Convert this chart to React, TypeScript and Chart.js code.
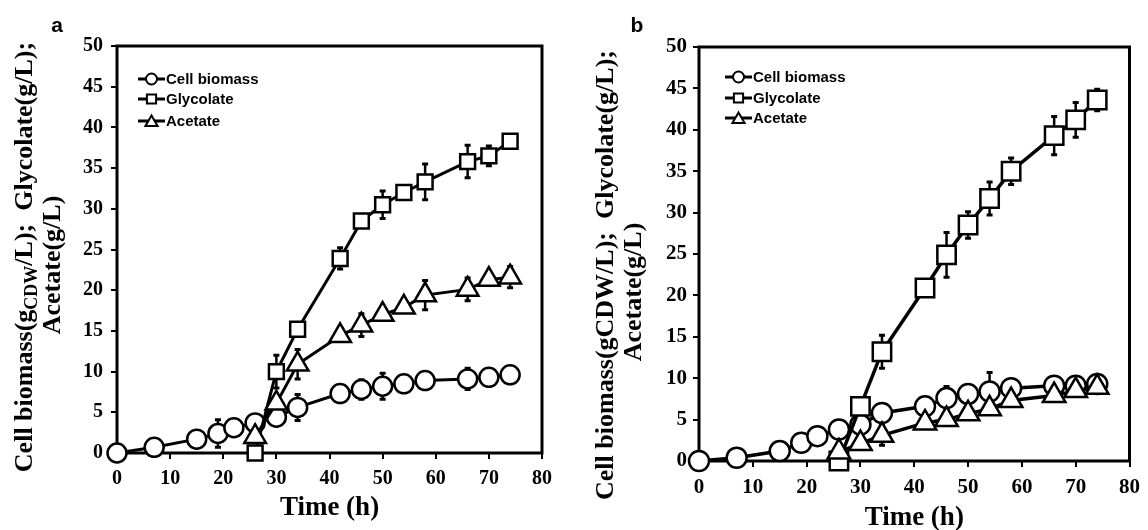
import React, { useEffect, useRef } from 'react';
import { Chart, registerables } from 'chart.js';

Chart.register(...registerables);

// ---------------- data ----------------
const timeCell = [0, 7, 15, 19, 22, 26, 30, 34, 42, 46, 50, 54, 58, 66, 70, 74];
const timeAcid = [26, 30, 34, 42, 46, 50, 54, 58, 66, 70, 74];

const seriesLabels = ['Cell biomass', 'Glycolate', 'Acetate'];
const xTitle = 'Time (h)';

// panel a
const cellA = [0, 0.7, 1.7, 2.4, 3.1, 3.7, 4.4, 5.6, 7.3, 7.8, 8.2, 8.5, 8.9, 9.1, 9.3, 9.6];
const cellAErr = [0, 0, 0, 1.7, 0, 0, 0, 1.6, 0, 1.2, 1.6, 0, 0, 1.3, 0, 0];
const glyA = [0, 10.0, 15.2, 23.9, 28.5, 30.5, 32.0, 33.3, 35.8, 36.5, 38.3];
const glyAErr = [0, 2.0, 0, 1.3, 0, 1.7, 0, 2.2, 2.0, 1.2, 0.8];
const aceA = [2.0, 6.1, 10.9, 14.4, 15.7, 17.0, 17.9, 19.4, 20.1, 21.3, 21.6];
const aceAErr = [0, 0, 1.8, 0, 1.4, 0, 0, 1.8, 1.4, 0, 1.3];

// panel b
const cellB = [0, 0.4, 1.2, 2.2, 3.0, 3.8, 4.4, 5.8, 6.6, 7.6, 8.1, 8.4, 8.8, 9.1, 9.1, 9.3];
const cellBErr = [0, 0, 0, 0, 0, 0, 0, 0, 0, 1.4, 0, 2.3, 0, 0, 0.5, 0];
const glyB = [0, 6.6, 13.2, 20.9, 24.9, 28.5, 31.7, 35.0, 39.3, 41.2, 43.6];
const glyBErr = [0, 0, 2.0, 0, 2.7, 1.6, 2.0, 1.6, 2.3, 2.1, 1.3];
const aceB = [1.1, 2.1, 3.1, 4.6, 5.0, 5.7, 6.3, 7.3, 7.9, 8.5, 8.9];
const aceBErr = [0, 0, 1.2, 0, 0, 0, 0, 0, 0, 0, 0];

const xTicks = { min: 0, max: 80, step: 10 };
const yTicks = { min: 0, max: 50, step: 5 };

// ---------------- styling / layout ----------------
const W = 574;
const H = 530;
const SERIF = '"Liberation Serif", "Times New Roman", serif';
const SANS = '"Liberation Sans", Arial, sans-serif';

type Seg = { t: string; sub?: boolean };

type PanelCfg = {
  letter: string;
  offsetX: number;
  area: { left: number; right: number; top: number; bottom: number };
  cell: number[];
  cellErr: number[];
  gly: number[];
  glyErr: number[];
  ace: number[];
  aceErr: number[];
  circleR: number;
  rectR: number;
  triR: number;
  lineW: number;
  tickSize: number;
  yTickPad: number;
  xTickPad: number;
  xTitlePadBottom: number;
  letterPos: [number, number];
  yTitle1: Seg[];
  yTitle2: string;
  yTitle1Pos: [number, number];
  yTitle2Pos: [number, number];
  legend: { x0: number; ys: number[] };
};

const panelA: PanelCfg = {
  letter: 'a',
  offsetX: 0,
  area: { left: 117, right: 542, top: 46, bottom: 453 },
  cell: cellA, cellErr: cellAErr, gly: glyA, glyErr: glyAErr, ace: aceA, aceErr: aceAErr,
  circleR: 9.5, rectR: 10.5, triR: 12.5, lineW: 3,
  tickSize: 20,
  yTickPad: 8, xTickPad: 8, xTitlePadBottom: 6,
  letterPos: [57, 26],
  yTitle1: [{ t: 'Cell biomass(g' }, { t: 'CDW', sub: true }, { t: '/L);  Glycolate(g/L);' }],
  yTitle2: 'Acetate(g/L)',
  yTitle1Pos: [32, 257],
  yTitle2Pos: [60, 265],
  legend: { x0: 138, ys: [79, 99, 121] },
};

const panelB: PanelCfg = {
  letter: 'b',
  offsetX: 574,
  area: { left: 125, right: 561, top: 47, bottom: 461 },
  cell: cellB, cellErr: cellBErr, gly: glyB, glyErr: glyBErr, ace: aceB, aceErr: aceBErr,
  circleR: 10, rectR: 13, triR: 13, lineW: 3.5,
  tickSize: 21,
  yTickPad: 6, xTickPad: 8, xTitlePadBottom: -4,
  letterPos: [63, 26],
  yTitle1: [{ t: 'Cell biomass(gCDW/L);  Glycolate(g/L);' }],
  yTitle2: 'Acetate(g/L)',
  yTitle1Pos: [39, 275],
  yTitle2Pos: [67, 292],
  legend: { x0: 151, ys: [77, 98, 118] },
};

// ---------------- helpers ----------------
function drawMarker(ctx: CanvasRenderingContext2D, style: string, x: number, y: number, r: number) {
  ctx.beginPath();
  if (style === 'circle') {
    ctx.arc(x, y, r, 0, Math.PI * 2);
  } else if (style === 'rect') {
    const s = r * Math.SQRT1_2;
    ctx.rect(x - s, y - s, 2 * s, 2 * s);
  } else {
    ctx.moveTo(x, y - r);
    ctx.lineTo(x + r * Math.sin((2 * Math.PI) / 3), y - r * Math.cos((2 * Math.PI) / 3));
    ctx.lineTo(x + r * Math.sin((4 * Math.PI) / 3), y - r * Math.cos((4 * Math.PI) / 3));
    ctx.closePath();
  }
  ctx.fillStyle = '#fff';
  ctx.fill();
  ctx.stroke();
}

const framePlugin = {
  id: 'frame',
  beforeDatasetsDraw(chart: any) {
    const { ctx, chartArea: a } = chart;
    ctx.save();
    ctx.strokeStyle = '#000';
    ctx.lineWidth = 3;
    ctx.strokeRect(a.left, a.top, a.right - a.left, a.bottom - a.top);
    ctx.restore();
  },
};

const errorBarPlugin = {
  id: 'errorBars',
  beforeDatasetsDraw(chart: any, _args: any, opts: any) {
    const { ctx } = chart;
    const ys = chart.scales.y;
    const errs: number[][] = opts.errors || [];
    ctx.save();
    ctx.strokeStyle = '#000';
    chart.data.datasets.forEach((ds: any, i: number) => {
      const meta = chart.getDatasetMeta(i);
      const e = errs[i] || [];
      ds.data.forEach((p: any, j: number) => {
        const err = e[j] || 0;
        if (!err) return;
        const el = meta.data[j];
        const x = el.x;
        const yTop = ys.getPixelForValue(p.y + err);
        const yBot = ys.getPixelForValue(p.y - err);
        ctx.lineWidth = 2.5;
        ctx.beginPath();
        ctx.moveTo(x, yTop);
        ctx.lineTo(x, yBot);
        ctx.stroke();
        ctx.lineWidth = 3;
        ctx.beginPath();
        ctx.moveTo(x - 3, yTop);
        ctx.lineTo(x + 3, yTop);
        ctx.moveTo(x - 3, yBot);
        ctx.lineTo(x + 3, yBot);
        ctx.stroke();
      });
    });
    ctx.restore();
  },
};

const panelTextPlugin = {
  id: 'panelText',
  afterDraw(chart: any, _args: any, opts: any) {
    const cfg: PanelCfg = opts.cfg;
    if (!cfg) return;
    const { ctx } = chart;
    ctx.save();
    ctx.fillStyle = '#000';

    // panel letter
    ctx.font = `bold 21px ${SANS}`;
    ctx.textAlign = 'center';
    ctx.textBaseline = 'middle';
    ctx.fillText(cfg.letter, cfg.letterPos[0], cfg.letterPos[1]);

    // y title line 1 (with optional subscript)
    const mainFont = `bold 26px ${SERIF}`;
    const subFont = `bold 18px ${SERIF}`;
    ctx.textAlign = 'left';
    ctx.textBaseline = 'alphabetic';
    let total = 0;
    cfg.yTitle1.forEach((s) => {
      ctx.font = s.sub ? subFont : mainFont;
      total += ctx.measureText(s.t).width;
    });
    ctx.save();
    ctx.translate(cfg.yTitle1Pos[0], cfg.yTitle1Pos[1]);
    ctx.rotate(-Math.PI / 2);
    let cx = -total / 2;
    cfg.yTitle1.forEach((s) => {
      ctx.font = s.sub ? subFont : mainFont;
      ctx.fillText(s.t, cx, s.sub ? 5 : 0);
      cx += ctx.measureText(s.t).width;
    });
    ctx.restore();

    // y title line 2
    ctx.save();
    ctx.translate(cfg.yTitle2Pos[0], cfg.yTitle2Pos[1]);
    ctx.rotate(-Math.PI / 2);
    ctx.font = mainFont;
    ctx.textAlign = 'center';
    ctx.fillText(cfg.yTitle2, 0, 0);
    ctx.restore();

    // legend
    const styles = ['circle', 'rect', 'triangle'];
    const radii = [5.5, 6.5, 7];
    ctx.font = `bold 15px ${SANS}`;
    ctx.textAlign = 'left';
    ctx.textBaseline = 'middle';
    chart.data.datasets.forEach((ds: any, i: number) => {
      const y = cfg.legend.ys[i];
      const x0 = cfg.legend.x0;
      ctx.strokeStyle = '#000';
      ctx.lineWidth = 3;
      ctx.beginPath();
      ctx.moveTo(x0, y);
      ctx.lineTo(x0 + 27, y);
      ctx.stroke();
      ctx.lineWidth = 2;
      drawMarker(ctx, styles[i], x0 + 13.5, y + (i === 2 ? 1.5 : 0), radii[i]);
      ctx.fillStyle = '#000';
      ctx.fillText(ds.label, x0 + 28, y + 1);
    });
    ctx.restore();
  },
};

function buildConfig(cfg: PanelCfg): any {
  const pts = (xs: number[], ys: number[]) => xs.map((x, i) => ({ x, y: ys[i] }));
  const common = (lineW: number) => ({
    borderColor: '#000',
    borderWidth: lineW,
    pointBackgroundColor: '#fff',
    pointBorderColor: '#000',
    pointBorderWidth: 2.5,
    pointHoverRadius: 0,
    tension: 0,
    fill: false,
    clip: false as any,
  });
  const tickFont = { family: SERIF, size: cfg.tickSize, weight: 'bold' as const };
  return {
    type: 'line',
    data: {
      datasets: [
        { label: seriesLabels[0], data: pts(timeCell, cfg.cell), pointStyle: 'circle', pointRadius: cfg.circleR, order: 2, ...common(cfg.lineW) },
        { label: seriesLabels[1], data: pts(timeAcid, cfg.gly), pointStyle: 'rect', pointRadius: cfg.rectR, order: 1, ...common(cfg.lineW) },
        { label: seriesLabels[2], data: pts(timeAcid, cfg.ace), pointStyle: 'triangle', pointRadius: cfg.triR, order: 0, ...common(cfg.lineW) },
      ],
    },
    options: {
      responsive: false,
      animation: false,
      devicePixelRatio: 1,
      events: [],
      layout: { padding: { top: cfg.area.top, right: W - cfg.area.right, left: 0, bottom: 0 } },
      plugins: {
        legend: { display: false },
        tooltip: { enabled: false },
        errorBars: { errors: [cfg.cellErr, cfg.glyErr, cfg.aceErr] },
        panelText: { cfg },
      },
      scales: {
        x: {
          type: 'linear',
          min: xTicks.min,
          max: xTicks.max,
          ticks: { stepSize: xTicks.step, font: tickFont, color: '#000', padding: cfg.xTickPad, maxRotation: 0 },
          grid: { drawOnChartArea: false, drawTicks: true, tickLength: 6, lineWidth: 2, color: '#000' },
          border: { display: false },
          title: {
            display: true,
            text: xTitle,
            color: '#000',
            font: { family: SERIF, size: 27, weight: 'bold' },
            padding: { top: 0, bottom: cfg.xTitlePadBottom },
          },
          afterFit: (s: any) => {
            s.height = H - cfg.area.bottom;
          },
        },
        y: {
          type: 'linear',
          min: yTicks.min,
          max: yTicks.max,
          ticks: { stepSize: yTicks.step, font: tickFont, color: '#000', padding: cfg.yTickPad },
          grid: { drawOnChartArea: false, drawTicks: true, tickLength: 6, lineWidth: 2, color: '#000' },
          border: { display: false },
          afterFit: (s: any) => {
            s.width = cfg.area.left;
          },
        },
      },
    },
    plugins: [framePlugin, errorBarPlugin, panelTextPlugin],
  };
}

function Panel({ cfg }: { cfg: PanelCfg }) {
  const ref = useRef<HTMLCanvasElement>(null);
  useEffect(() => {
    if (!ref.current) return;
    const chart = new Chart(ref.current, buildConfig(cfg));
    return () => chart.destroy();
  }, [cfg]);
  return (
    <canvas
      ref={ref}
      width={W}
      height={H}
      style={{ position: 'absolute', left: cfg.offsetX, top: 0, width: W, height: H, display: 'block' }}
    />
  );
}

export default function App() {
  return (
    <div style={{ position: 'fixed', left: 0, top: 0, width: 1148, height: 530, background: '#fff', overflow: 'hidden' }}>
      <Panel cfg={panelA} />
      <Panel cfg={panelB} />
    </div>
  );
}
